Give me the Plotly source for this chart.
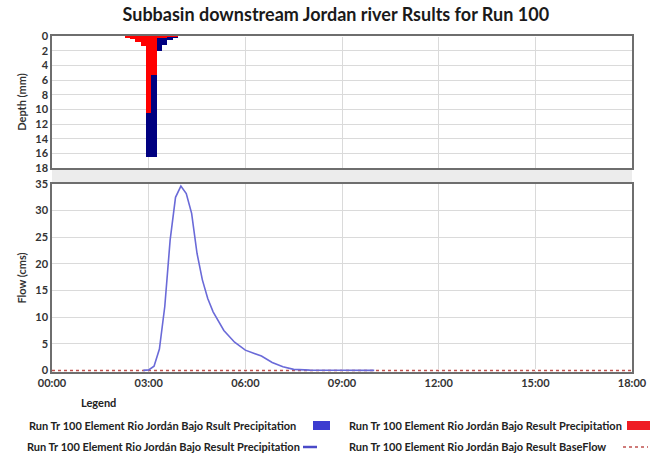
import plotly.graph_objects as go

# Niederschlag (10-min Intervalle, Mitte des Intervalls)
bar_times = ["02:20", "02:30", "02:40", "02:50", "03:00", "03:10", "03:20", "03:30", "03:40", "03:50"]
precip_total = [0.2, 0.4, 0.8, 1.4, 16.5, 16.5, 2.0, 1.2, 0.6, 0.2]
precip_loss = [0.2, 0.4, 0.8, 1.4, 10.5, 5.3, 0.3, 0.15, 0.1, 0.05]

# Abfluss
flow_times = ["00:00", "02:50", "03:00", "03:10", "03:20", "03:30", "03:40", "03:50", "04:00",
              "04:10", "04:20", "04:30", "04:40", "04:50", "05:00", "05:20", "05:40", "06:00",
              "06:30", "06:50", "07:10", "07:30", "08:00", "09:00", "10:00"]
flow = [0, 0, 0.1, 0.8, 4.0, 12.0, 24.5, 32.5, 34.6,
        33.2, 29.5, 22.0, 17.0, 13.5, 11.0, 7.5, 5.3, 3.8,
        2.7, 1.5, 0.7, 0.2, 0.05, 0.02, 0]

base_times = ["00:00", "18:00"]
baseflow = [0, 0]

tick_times = ["00:00", "03:00", "06:00", "09:00", "12:00", "15:00", "18:00"]


def ts(t):
    return "2000-01-01 " + t + ":00"


BAR_W = 10 * 60 * 1000
FONT = "Lato"
GRID = "#dadada"
BORDER = "#6e6e6e"

fig = go.Figure()
fig.add_trace(go.Bar(x=[ts(t) for t in bar_times], y=precip_total, width=BAR_W,
                     marker=dict(color="#000080", line=dict(width=0)),
                     xaxis="x2", yaxis="y2", showlegend=False))
fig.add_trace(go.Bar(x=[ts(t) for t in bar_times], y=precip_loss, width=BAR_W,
                     marker=dict(color="#ff0000", line=dict(width=0)),
                     xaxis="x2", yaxis="y2", showlegend=False))
fig.add_trace(go.Scatter(x=[ts(t) for t in base_times], y=baseflow, mode="lines",
                         line=dict(color="#c0504d", width=1.5, dash="dot"), showlegend=False))
fig.add_trace(go.Scatter(x=[ts(t) for t in flow_times[1:]], y=flow[1:], mode="lines",
                         line=dict(color="#6a6ad8", width=1.6), showlegend=False))

# Pixel -> Papierkoordinaten (Plotfläche 52..632 x 36..372)
L, R, T, B = 52, 632, 36, 372


def px(x):
    return (x - L) / (R - L)


def py(y):
    return (B - y) / (B - T)


top_lo = py(168)
bot_hi = py(184)

axis_common = dict(showline=True, linecolor=BORDER, linewidth=1.5, mirror=True,
                   showgrid=True, gridcolor=GRID, gridwidth=1, ticks="",
                   tickfont=dict(family=FONT, size=11, color="#333", weight="bold"))
xrange = [ts("00:00"), ts("18:00")]
fig.update_layout(
    width=665, height=454,
    margin=dict(l=L, r=665 - R, t=T, b=454 - B),
    paper_bgcolor="white", plot_bgcolor="white",
    barmode="overlay", bargap=0,
    title=dict(text="Subbasin downstream Jordan river Rsults for Run 100",
               x=0.505, xanchor="center", y=0.967, yanchor="middle",
               font=dict(family=FONT, size=18, color="#1a1a1a", weight="bold")),
    xaxis=dict(type="date", range=xrange, tickvals=[ts(t) for t in tick_times],
               ticktext=tick_times, anchor="y", **axis_common),
    yaxis=dict(domain=[0, bot_hi], range=[-0.3, 35], dtick=5,
               title=dict(text="Flow (cms)", standoff=6,
                          font=dict(family=FONT, size=11, color="#333", weight="bold")),
               **axis_common),
    xaxis2=dict(type="date", range=xrange, tickvals=[ts(t) for t in tick_times],
                showticklabels=False, anchor="y2", matches="x", **axis_common),
    yaxis2=dict(domain=[top_lo, 1], range=[18, 0], dtick=2,
                title=dict(text="Depth (mm)", standoff=6,
                           font=dict(family=FONT, size=11, color="#333", weight="bold")),
                **axis_common),
)

# graues Band zwischen den Panels
fig.add_shape(type="rect", xref="paper", yref="paper", x0=0, x1=1, y0=bot_hi, y1=top_lo,
              fillcolor="#ececec", line=dict(width=0), layer="below")

# Legende (Symbole rechts vom Text)
leg_font = dict(family=FONT, size=11, color="#222", weight="bold")
fig.add_annotation(text="Legend", xref="paper", yref="paper", x=px(98), y=py(403),
                   showarrow=False, xanchor="center", yanchor="middle", font=leg_font)
rows = [
    ("Run Tr 100 Element Rio Jordán Bajo Rsult Precipitation", 27, 425),
    ("Run Tr 100 Element Rio Jordán Bajo Result Precipitation", 347, 425),
    ("Run Tr 100 Element Rio Jordán Bajo Result Precipitation", 25, 446),
    ("Run Tr 100 Element Rio Jordán Bajo Result BaseFlow", 347, 446),
]
for text, x0, y0 in rows:
    fig.add_annotation(text=text, xref="paper", yref="paper", x=px(x0), y=py(y0),
                       showarrow=False, xanchor="left", yanchor="middle", font=leg_font)

fig.add_shape(type="rect", xref="paper", yref="paper", x0=px(313), x1=px(330),
              y0=py(430), y1=py(421), fillcolor="#3c3cd0", line=dict(width=0))
fig.add_shape(type="rect", xref="paper", yref="paper", x0=px(627), x1=px(650),
              y0=py(430), y1=py(421), fillcolor="#ee1c24", line=dict(width=0))
fig.add_shape(type="line", xref="paper", yref="paper", x0=px(303), x1=px(317),
              y0=py(447), y1=py(447), line=dict(color="#4a4ac8", width=2.5))
fig.add_shape(type="line", xref="paper", yref="paper", x0=px(623), x1=px(648),
              y0=py(447), y1=py(447), line=dict(color="#c0504d", width=1.5, dash="dot"))

fig.write_html("out.html", config={"displayModeBar": False},
               post_script="document.body.style.margin='0px';")
